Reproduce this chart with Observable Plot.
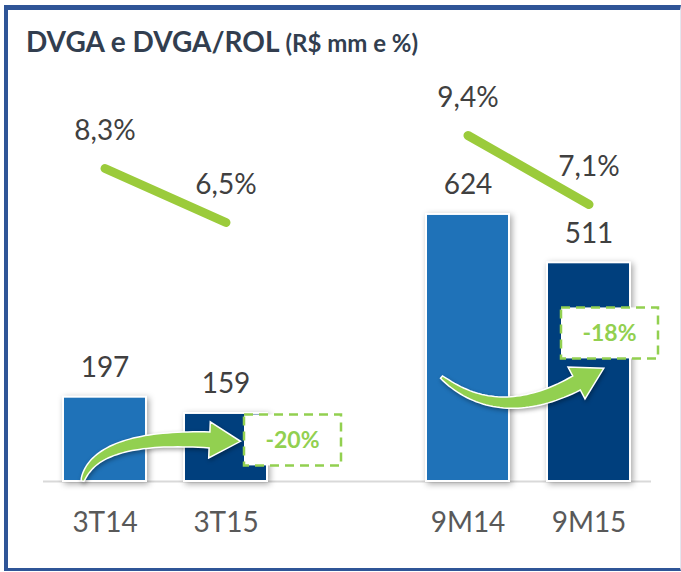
<!DOCTYPE html>
<html><head><meta charset="utf-8">
<script src="https://cdn.jsdelivr.net/npm/d3@7"></script>
<script src="https://cdn.jsdelivr.net/npm/@observablehq/plot@0.6"></script>
<style>
body{margin:0;background:#fff;}
#wrap{position:relative;width:681px;height:572px;overflow:hidden;font-family:Lato,sans-serif;}
#frame{position:absolute;left:4px;top:5px;width:677px;height:566px;box-sizing:border-box;border-left:4px solid #2F5597;border-top:5px solid #2F5597;border-bottom:3px solid #2F5597;border-right:1px solid #E3E7F0;}
#title{position:absolute;left:26px;top:27px;line-height:28px;font-weight:700;font-size:28px;color:#323E4F;white-space:nowrap;}
#title span{font-size:24px;}
.layer{position:absolute;left:0;top:70px;}
</style></head>
<body>
<div id="wrap">
<div id="frame"></div>
<div id="title">DVGA e DVGA/ROL <span>(R$ mm e %)</span></div>
<div id="bars" class="layer"></div>
<div id="pct" class="layer"></div>
</div>
<script>
// ---- data ----
const categories = ["3T14", "3T15", "9M14", "9M15"];
const dvga = [197, 159, 624, 511];            // R$ mm
const dvgaRol = [8.3, 6.5, 9.4, 7.1];         // %
const periodGroup = ["3T", "3T", "9M", "9M"];
const periodKind = ["prev", "curr", "prev", "curr"];
const xDomain = ["3T14", "3T15", " ", "9M14", "9M15"];
const changeFrom = ["3T14", "9M14"];
const changeTo = ["3T15", "9M15"];
const changeLabels = ["-20%", "-18%"];

const rows = categories.map((c, i) => ({cat: c, val: dvga[i], pct: dvgaRol[i], grp: periodGroup[i], kind: periodKind[i]}));
const colorOf = {prev: "#1F72B8", curr: "#003F7D"};

const W = 681, H = 502, ML = 24, MR = 12, MT = 10, MB = 91;
const xOpts = {type: "band", domain: xDomain, padding: 0.31, label: null, tickSize: 0, tickPadding: 31, tickFormat: d => d.trim()};

// arrow geometry (pixel offsets from bar centres, y given in bar units)
const arrowGeom = [
  {tail: [-22, 0], ctrl: [-9, 108], base: [-16, 96], box: [67, 96]},
  {tail: [-26, 243], ctrl: [31, 131], base: [-12, 229], box: [21, 346]}
];

function arrowPath(P0, C, Pb, w0, w1, hw, hl) {
  const N = 40, L = [], R = [];
  for (let i = 0; i <= N; i++) {
    const t = i / N, mt = 1 - t;
    const bx = mt*mt*P0[0] + 2*mt*t*C[0] + t*t*Pb[0];
    const by = mt*mt*P0[1] + 2*mt*t*C[1] + t*t*Pb[1];
    let tx = 2*mt*(C[0]-P0[0]) + 2*t*(Pb[0]-C[0]);
    let ty = 2*mt*(C[1]-P0[1]) + 2*t*(Pb[1]-C[1]);
    const len = Math.hypot(tx, ty); tx /= len; ty /= len;
    const nx = -ty, ny = tx, w = (w0 + (w1 - w0) * Math.pow(t, 0.7)) / 2;
    L.push([bx + nx*w, by + ny*w]); R.push([bx - nx*w, by - ny*w]);
  }
  let ux = Pb[0]-C[0], uy = Pb[1]-C[1]; const ul = Math.hypot(ux, uy); ux /= ul; uy /= ul;
  const nx = -uy, ny = ux;
  const pts = [...L, [Pb[0]+nx*hw, Pb[1]+ny*hw], [Pb[0]+ux*hl, Pb[1]+uy*hl], [Pb[0]-nx*hw, Pb[1]-ny*hw], ...R.reverse()];
  return "M" + pts.map(p => p[0].toFixed(1) + "," + p[1].toFixed(1)).join("L") + "Z";
}

function changeAnnotations(index, scales) {
  const x = scales.x, y = scales.y;
  const bw = typeof x.bandwidth === "function" ? x.bandwidth() : 0;
  const cx = c => x(c) + bw / 2;
  const g = d3.create("svg:g");
  arrowGeom.forEach((gm, i) => {
    const x0 = cx(changeFrom[i]), x1 = cx(changeTo[i]);
    const P0 = [x0 + gm.tail[0], y(gm.tail[1])];
    const C = [x0 + gm.ctrl[0], y(gm.ctrl[1])];
    const Pb = [x1 + gm.base[0], y(gm.base[1])];
    g.append("path").attr("d", arrowPath(P0, C, Pb, 3, 16, 18, 31))
      .attr("fill", "#92D050").attr("stroke", "#fff").attr("stroke-width", 1.5)
      .style("filter", "drop-shadow(1px 2px 2px rgba(0,0,0,0.35))");
    const bxc = x1 + gm.box[0], byc = y(gm.box[1]);
    g.append("rect").attr("x", bxc - 48.5).attr("y", byc - 25.5).attr("width", 97).attr("height", 51)
      .attr("fill", "#fff").attr("stroke", "#92D050").attr("stroke-width", 2.5).attr("stroke-dasharray", "9,6");
    g.append("text").attr("x", bxc).attr("y", byc).attr("dy", "0.36em").attr("text-anchor", "middle")
      .attr("font-weight", 700).attr("font-size", 23).attr("fill", "#92D050").text(changeLabels[i]);
  });
  return g.node();
}

const barsPlot = Plot.plot({
  width: W, height: H, marginLeft: ML, marginRight: MR, marginTop: MT, marginBottom: MB,
  style: {fontFamily: "Lato, sans-serif", fontSize: "28px", color: "#595959", background: "transparent"},
  x: xOpts,
  y: {domain: [0, 937], axis: null},
  marks: [
    Plot.ruleY([0], {stroke: "#D9D9D9", strokeWidth: 2, insetLeft: 19, insetRight: 18}),
    Plot.barY(rows, {x: "cat", y: "val", fill: d => colorOf[d.kind], stroke: "#fff", strokeWidth: 2}),
    Plot.text(rows, {x: "cat", y: "val", text: d => String(d.val), dy: -29, lineAnchor: "middle", fontSize: 28, fill: "#404040"}),
    changeAnnotations
  ]
});
d3.select(barsPlot).selectAll('g[aria-label="bar"] rect').style("filter", "drop-shadow(2px 2px 3px rgba(0,0,0,0.35))");
document.getElementById("bars").appendChild(barsPlot);

const pctPlot = Plot.plot({
  width: W, height: H, marginLeft: ML, marginRight: MR, marginTop: MT, marginBottom: MB,
  style: {fontFamily: "Lato, sans-serif", fontSize: "28px", background: "transparent"},
  x: {...xOpts, axis: null},
  y: {domain: [-2.133, 11.233], axis: null},
  marks: [
    Plot.line(rows, {x: "cat", y: "pct", z: "grp", stroke: "#9BCB3B", strokeWidth: 9, strokeLinecap: "round"}),
    Plot.text(rows, {x: "cat", y: "pct", text: d => d.pct.toFixed(1).replace(".", ",") + "%", dy: -37, lineAnchor: "middle", fontSize: 28, fill: "#404040"})
  ]
});
document.getElementById("pct").appendChild(pctPlot);
</script>
</body></html>
